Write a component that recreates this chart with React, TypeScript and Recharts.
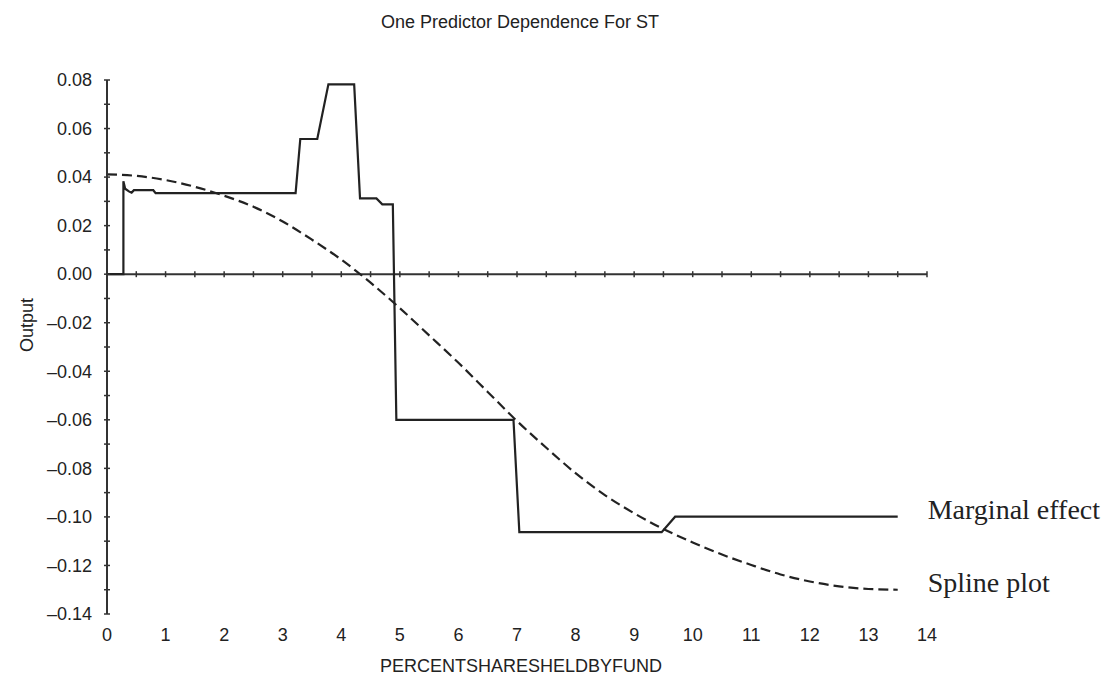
import React from "react";
import { LineChart, Line, XAxis, YAxis, ReferenceLine } from "recharts";

const SANS = "'Liberation Sans', Arial, sans-serif";
const SERIF = "'Liberation Serif', 'Times New Roman', serif";
const INK = "#222";

// x axis labels along the bottom
const xTicks = [0, 1, 2, 3, 4, 5, 6, 7, 8, 9, 10, 11, 12, 13, 14];
// minor marks on the zero line, every half unit
const zeroLineTicks = [
    0, 0.5, 1, 1.5, 2, 2.5, 3, 3.5, 4, 4.5, 5, 5.5, 6, 6.5, 7,
    7.5, 8, 8.5, 9, 9.5, 10, 10.5, 11, 11.5, 12, 12.5, 13, 13.5, 14,
];
// y axis marks every 0.01, labelled every 0.02
const yTicks = [
    0.08, 0.07, 0.06, 0.05, 0.04, 0.03, 0.02, 0.01, 0, -0.01, -0.02, -0.03,
    -0.04, -0.05, -0.06, -0.07, -0.08, -0.09, -0.1, -0.11, -0.12, -0.13, -0.14,
];
const yLabelled = [0.08, 0.06, 0.04, 0.02, 0, -0.02, -0.04, -0.06, -0.08, -0.1, -0.12, -0.14];

// marginal effect (step-like solid line)
const marginalX = [
    0, 0.28, 0.28, 0.31, 0.38, 0.42, 0.46, 0.79, 0.83, 3.22, 3.3, 3.59, 3.78, 4.22,
    4.32, 4.6, 4.7, 4.88, 4.94, 6.94, 7.04, 9.47, 9.7, 13.5,
];
const marginalY = [
    0, 0, 0.0383, 0.0352, 0.034, 0.0336, 0.0346, 0.0346, 0.0334, 0.0334, 0.0557, 0.0557, 0.0782, 0.0782,
    0.0312, 0.0312, 0.0288, 0.0288, -0.06, -0.06, -0.1063, -0.1063, -0.0999, -0.0999,
];

// spline fit (dashed line)
const splineX = [
    0, 0.5, 1, 1.5, 2, 2.5, 3, 3.5, 4, 4.5, 5, 5.5, 6, 6.5,
    7, 7.5, 8, 8.5, 9, 9.5, 10, 10.5, 11, 11.5, 12, 12.5, 13, 13.5,
];
const splineY = [
    0.0411, 0.0405, 0.0388, 0.036, 0.0323, 0.0278, 0.0217, 0.0142, 0.006, -0.0035, -0.014, -0.0252, -0.0365, -0.0485,
    -0.0605, -0.0715, -0.082, -0.091, -0.0985, -0.105, -0.1105, -0.1155, -0.1198, -0.1237, -0.1266, -0.1286, -0.1297, -0.13,
];

const marginalData = marginalX.map((x, i) => ({ x, y: marginalY[i] }));
const splineData = splineX.map((x, i) => ({ x, y: splineY[i] }));

const fmt = (v: number) => {
    const s = Math.abs(v).toFixed(2);
    return v < -1e-9 ? `\u2013${s}` : s;
};

const YTick = ({ x, y, payload }: any) => {
    const v = payload.value;
    const labelled = yLabelled.some((t) => Math.abs(t - v) < 1e-9);
    return (
        <g>
            <line x1={x - 3} x2={x + 3} y1={y} y2={y} stroke="#333" strokeWidth={1.5} />
            {labelled && (
                <text x={x - 15} y={y} dy="0.35em" textAnchor="end" fontSize={18} fontFamily={SANS} fill={INK}>
                    {fmt(v)}
                </text>
            )}
        </g>
    );
};

// zero line drawn across the plot, with small crossing marks
const ZeroLine = ({ x1, x2, y1 }: any) => {
    const span = x2 - x1;
    return (
        <g>
            <line x1={x1} x2={x2} y1={y1} y2={y1} stroke="#333" strokeWidth={2} />
            {zeroLineTicks.map((t) => {
                const px = x1 + (span * t) / 14;
                return <line key={t} x1={px} x2={px} y1={y1 - 3} y2={y1 + 3} stroke="#333" strokeWidth={1.5} />;
            })}
        </g>
    );
};

const endLabel = (text: string, count: number, dy: number) => (props: any) => {
    if (props.index !== count - 1) return null;
    return (
        <text x={props.x + 30} y={props.y} dy={dy} fontSize={28} fontFamily={SERIF} fill={INK}>
            {text}
        </text>
    );
};

export default function App() {
    return (
        <div style={{ position: "absolute", left: 0, top: 0, width: 1112, height: 678, background: "#fff" }}>
            <div
                style={{
                    position: "absolute",
                    left: 107,
                    width: 826,
                    top: 12,
                    textAlign: "center",
                    fontFamily: SANS,
                    fontSize: 18,
                    color: INK,
                    lineHeight: "20px",
                }}
            >
                One Predictor Dependence For ST
            </div>
            <LineChart width={1112} height={678} margin={{ top: 80, right: 185, bottom: 0, left: 0 }}>
                <XAxis
                    type="number"
                    dataKey="x"
                    domain={[0, 14]}
                    ticks={xTicks}
                    interval={0}
                    axisLine={false}
                    tickLine={false}
                    tickSize={0}
                    tickMargin={14}
                    height={64}
                    tick={{ fontSize: 18, fill: INK, fontFamily: SANS }}
                    label={(p: any) => {
                        const vb = p.viewBox;
                        return (
                            <text x={vb.x + vb.width / 2 + 4} y={vb.y + 58} textAnchor="middle" fontSize={18} fontFamily={SANS} fill={INK}>
                                PERCENTSHARESHELDBYFUND
                            </text>
                        );
                    }}
                />
                <YAxis
                    type="number"
                    dataKey="y"
                    domain={[-0.14, 0.08]}
                    ticks={yTicks}
                    interval={0}
                    width={107}
                    tickSize={0}
                    tickMargin={0}
                    tickLine={false}
                    axisLine={{ stroke: "#333", strokeWidth: 2 }}
                    tick={<YTick />}
                    label={(p: any) => {
                        const vb = p.viewBox;
                        const cy = vb.y + vb.height / 2 - 22;
                        return (
                            <text
                                x={33}
                                y={cy}
                                transform={`rotate(-90, 33, ${cy})`}
                                textAnchor="middle"
                                fontSize={18}
                                fontFamily={SANS}
                                fill={INK}
                            >
                                Output
                            </text>
                        );
                    }}
                />
                <ReferenceLine y={0} shape={<ZeroLine />} />
                <Line
                    data={splineData}
                    dataKey="y"
                    type="monotone"
                    stroke={INK}
                    strokeWidth={2.2}
                    strokeDasharray="10 5"
                    dot={false}
                    isAnimationActive={false}
                    label={endLabel("Spline plot", splineData.length, 2)}
                />
                <Line
                    data={marginalData}
                    dataKey="y"
                    type="linear"
                    stroke={INK}
                    strokeWidth={2.2}
                    dot={false}
                    isAnimationActive={false}
                    label={endLabel("Marginal effect", marginalData.length, 2)}
                />
            </LineChart>
        </div>
    );
}
